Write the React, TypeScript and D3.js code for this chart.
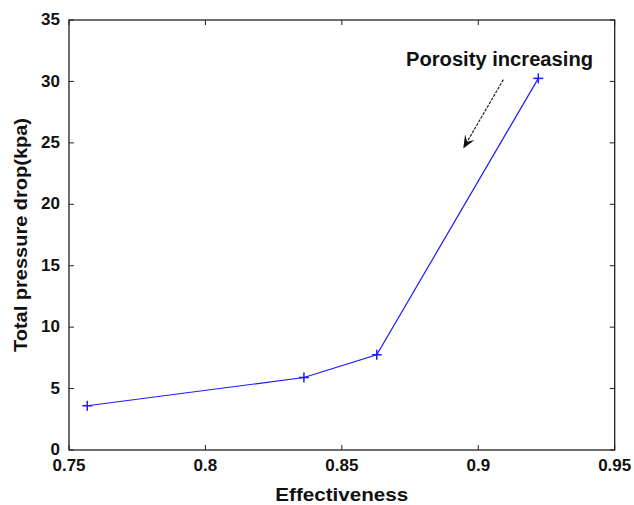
import React from "react";
import * as d3 from "d3";

const effectiveness = [0.7567, 0.8361, 0.8628, 0.922];
const pressureDrop = [3.6, 5.9, 7.75, 30.25];
const xTicks = [0.75, 0.8, 0.85, 0.9, 0.95];
const yTicks = [0, 5, 10, 15, 20, 25, 30, 35];
const xTickLabels = ["0.75", "0.8", "0.85", "0.9", "0.95"];
const annotationText = "Porosity increasing";
const arrowFrom = [0.9092, 30.15];
const arrowTo = [0.8945, 24.55];

const W = 634;
const H = 505;
const left = 69;
const right = 614.7;
const top = 20;
const bottom = 450;
const font = "Arial, 'Liberation Sans', Helvetica, sans-serif";

export default function App() {
  const x = d3.scaleLinear().domain([0.75, 0.95]).range([left, right]);
  const y = d3.scaleLinear().domain([0, 35]).range([bottom, top]);
  const line = d3
    .line<number>()
    .x((_, i) => x(effectiveness[i]))
    .y((d) => y(d));
  const path = line(pressureDrop) || "";
  const tl = 5;
  const ax0 = x(arrowFrom[0]);
  const ay0 = y(arrowFrom[1]);
  const ax1 = x(arrowTo[0]);
  const ay1 = y(arrowTo[1]);
  const ang = Math.atan2(ay1 - ay0, ax1 - ax0);
  const hl = 13;
  const hw = 5.5;
  const cos = Math.cos(ang);
  const sin = Math.sin(ang);
  const bx = ax1 - hl * cos;
  const by = ay1 - hl * sin;
  const nx = -sin;
  const ny = cos;
  const notch = 0.6;
  const head = `M${ax1},${ay1} L${bx + nx * hw},${by + ny * hw} L${ax1 - hl * notch * cos},${ay1 - hl * notch * sin} L${bx - nx * hw},${by - ny * hw} Z`;

  return (
    <svg
      width={W}
      height={H}
      style={{ position: "absolute", left: 0, top: 0, background: "#fff" }}
      fontFamily={font}
    >
      <rect x={0} y={0} width={W} height={H} fill="#fff" />
      {yTicks.map((t) => (
        <g key={"y" + t}>
          <line x1={left} x2={left + tl} y1={y(t)} y2={y(t)} stroke="#222" strokeWidth={1} />
          <line x1={right} x2={right - tl} y1={y(t)} y2={y(t)} stroke="#222" strokeWidth={1} />
          <text
            x={left - 9}
            y={y(t) - 1}
            dy="0.36em"
            textAnchor="end"
            fontSize={17}
            fontWeight="bold"
            fill="#111"
          >
            {t}
          </text>
        </g>
      ))}
      {xTicks.map((t, i) => (
        <g key={"x" + t}>
          <line x1={x(t)} x2={x(t)} y1={bottom} y2={bottom - tl} stroke="#222" strokeWidth={1} />
          <line x1={x(t)} x2={x(t)} y1={top} y2={top + tl} stroke="#222" strokeWidth={1} />
          <text
            x={x(t)}
            y={470.5}
            textAnchor="middle"
            fontSize={17}
            fontWeight="bold"
            fill="#111"
          >
            {xTickLabels[i]}
          </text>
        </g>
      ))}
      <rect
        x={left}
        y={top}
        width={right - left}
        height={bottom - top}
        fill="none"
        stroke="#222"
        strokeWidth={1.3}
      />
      <path d={path} fill="none" stroke="#1a1aff" strokeWidth={1.2} />
      {effectiveness.map((e, i) => (
        <g key={"m" + i} stroke="#1a1aff" strokeWidth={1.5}>
          <line x1={x(e) - 5} x2={x(e) + 5} y1={y(pressureDrop[i])} y2={y(pressureDrop[i])} />
          <line x1={x(e)} x2={x(e)} y1={y(pressureDrop[i]) - 5} y2={y(pressureDrop[i]) + 5} />
        </g>
      ))}
      <text
        x={499.5}
        y={66}
        textAnchor="middle"
        fontSize={19.5}
        fontWeight="bold"
        fill="#111"
        textLength={187}
        lengthAdjust="spacingAndGlyphs"
      >
        {annotationText}
      </text>
      <line
        x1={ax0}
        y1={ay0}
        x2={ax1 - hl * notch * cos}
        y2={ay1 - hl * notch * sin}
        stroke="#222"
        strokeWidth={1.2}
        strokeDasharray="3,1.2"
      />
      <path d={head} fill="#111" />
      <text
        x={341.8}
        y={501}
        textAnchor="middle"
        fontSize={19}
        fontWeight="bold"
        fill="#111"
        textLength={133}
        lengthAdjust="spacingAndGlyphs"
      >
        Effectiveness
      </text>
      <text
        transform={`translate(27,235) rotate(-90)`}
        textAnchor="middle"
        fontSize={19}
        fontWeight="bold"
        fill="#111"
        textLength={234}
        lengthAdjust="spacingAndGlyphs"
      >
        Total pressure drop(kpa)
      </text>
    </svg>
  );
}
